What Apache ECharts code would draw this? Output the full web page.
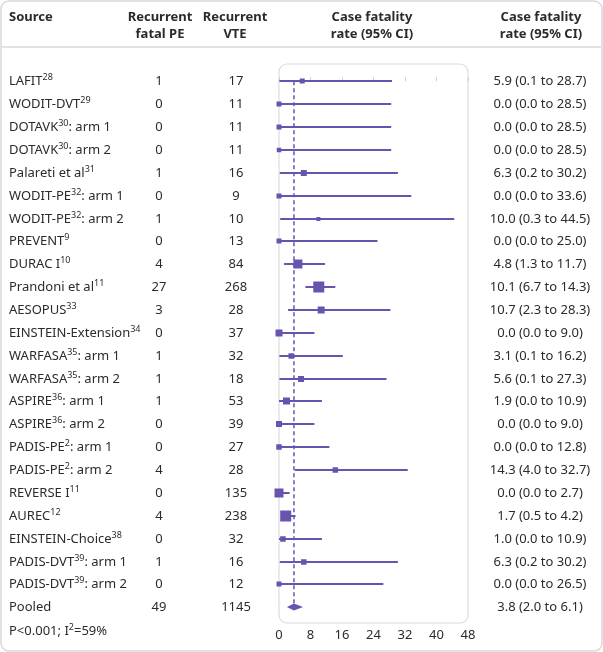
<!DOCTYPE html>
<html>
<head>
<meta charset="utf-8">
<script src="https://cdn.jsdelivr.net/npm/echarts@6/dist/echarts.min.js"></script>
<style>
  html, body { margin: 0; padding: 0; background: #fff; }
  #chart { width: 603px; height: 652px; }
</style>
</head>
<body>
<div id="chart"></div>
<script>
// study names and their reference superscripts
const studies = ['LAFIT', 'WODIT-DVT', 'DOTAVK', 'DOTAVK', 'Palareti et al', 'WODIT-PE', 'WODIT-PE', 'PREVENT',
  'DURAC I', 'Prandoni et al', 'AESOPUS', 'EINSTEIN-Extension', 'WARFASA', 'WARFASA', 'ASPIRE', 'ASPIRE',
  'PADIS-PE', 'PADIS-PE', 'REVERSE I', 'AUREC', 'EINSTEIN-Choice', 'PADIS-DVT', 'PADIS-DVT', 'Pooled'];
const refs = ['28', '29', '30', '30', '31', '32', '32', '9', '10', '11', '33', '34', '35', '35', '36', '36',
  '2', '2', '11', '12', '38', '39', '39', ''];
const arms = ['', '', ': arm 1', ': arm 2', '', ': arm 1', ': arm 2', '', '', '', '', '', ': arm 1', ': arm 2',
  ': arm 1', ': arm 2', ': arm 1', ': arm 2', '', '', '', ': arm 1', ': arm 2', ''];

const fatalPE = [1, 0, 0, 0, 1, 0, 1, 0, 4, 27, 3, 0, 1, 1, 1, 0, 0, 4, 0, 4, 0, 1, 0, 49];
const recurrentVTE = [17, 11, 11, 11, 16, 9, 10, 13, 84, 268, 28, 37, 32, 18, 53, 39, 27, 28, 135, 238, 32, 16, 12, 1145];

const rate = [5.9, 0.0, 0.0, 0.0, 6.3, 0.0, 10.0, 0.0, 4.8, 10.1, 10.7, 0.0, 3.1, 5.6, 1.9, 0.0, 0.0, 14.3, 0.0, 1.7, 1.0, 6.3, 0.0, 3.8];
const lower = [0.1, 0.0, 0.0, 0.0, 0.2, 0.0, 0.3, 0.0, 1.3, 6.7, 2.3, 0.0, 0.1, 0.1, 0.0, 0.0, 0.0, 4.0, 0.0, 0.5, 0.0, 0.2, 0.0, 2.0];
const upper = [28.7, 28.5, 28.5, 28.5, 30.2, 33.6, 44.5, 25.0, 11.7, 14.3, 28.3, 9.0, 16.2, 27.3, 10.9, 9.0, 12.8, 32.7, 2.7, 4.2, 10.9, 30.2, 26.5, 6.1];
// marker weights (box side in px)
const weight = [5, 5, 5, 4.5, 6, 5, 4, 5, 9, 11, 7, 7, 5.5, 6, 7, 6, 5.5, 5.5, 9, 11, 5.5, 5.5, 5, 7];

const xTicks = [0, 8, 16, 24, 32, 40, 48];

const purple = '#6854af';
const textColor = '#2b2b2b';
const fontFamily = '"Noto Sans", "Open Sans", sans-serif';

const chart = echarts.init(document.getElementById('chart'));

const fmt = v => v.toFixed(1);

const richStyle = {
  n: { fontSize: 13, fontFamily: fontFamily, fill: textColor, lineHeight: 16 },
  s: { fontSize: 9, fontFamily: fontFamily, fill: textColor, verticalAlign: 'top', lineHeight: 9 }
};

function renderRow(params, api) {
  const i = api.value(1);
  const y = Math.round(api.coord([0, i])[1]);
  const pLo = api.coord([api.value(2), i]);
  const pHi = api.coord([api.value(3), i]);
  const pEst = api.coord([api.value(0), i]);
  const s = api.value(4);
  const children = [];

  // text columns
  const label = refs[i]
    ? '{n|' + studies[i] + '}{s|' + refs[i] + '}{n|' + arms[i] + '}'
    : '{n|' + studies[i] + arms[i] + '}';
  children.push({
    type: 'text',
    style: { x: 9, y: y, text: label, fill: textColor, align: 'left', verticalAlign: 'middle', rich: richStyle }
  });
  children.push({
    type: 'text',
    style: { x: 159, y: y, text: String(fatalPE[i]), fill: textColor, font: '13px ' + fontFamily, align: 'center', verticalAlign: 'middle' }
  });
  children.push({
    type: 'text',
    style: { x: 236, y: y, text: String(recurrentVTE[i]), fill: textColor, font: '13px ' + fontFamily, align: 'center', verticalAlign: 'middle' }
  });
  children.push({
    type: 'text',
    style: {
      x: 540, y: y, text: fmt(rate[i]) + ' (' + fmt(lower[i]) + ' to ' + fmt(upper[i]) + ')',
      fill: textColor, font: '13px ' + fontFamily, align: 'center', verticalAlign: 'middle'
    }
  });

  if (i === studies.length - 1) {
    // pooled diamond
    children.push({
      type: 'polygon',
      shape: { points: [[pLo[0], y], [pEst[0], y - s / 2], [pHi[0], y], [pEst[0], y + s / 2]] },
      style: { fill: purple }
    });
  } else {
    children.push({
      type: 'line',
      shape: { x1: pLo[0], y1: y, x2: pHi[0], y2: y },
      style: { stroke: purple, lineWidth: 2 }
    });
    children.push({
      type: 'rect',
      shape: { x: pEst[0] - s / 2, y: y - s / 2, width: s, height: s },
      style: { fill: purple }
    });
  }
  return { type: 'group', children: children };
}

const rows = studies.map((_, i) => [rate[i], i, lower[i], upper[i], weight[i]]);
const pooled = rate[rate.length - 1];

const headerFont = 'bold 13px ' + fontFamily;

chart.setOption({
  backgroundColor: '#fff',
  animation: false,
  grid: { left: 279, width: 189, top: 64, height: 559 },
  xAxis: {
    type: 'value', min: xTicks[0], max: xTicks[xTicks.length - 1], interval: 8,
    axisLine: { show: false },
    axisTick: { show: true, inside: true, length: 4, lineStyle: { color: '#cfcfcf' } },
    splitLine: { show: false },
    axisLabel: { fontSize: 13, fontFamily: fontFamily, color: textColor, margin: 6 }
  },
  yAxis: { type: 'value', inverse: true, min: -0.756, max: 23.687, show: false },
  graphic: [
    { type: 'rect', shape: { x: 1, y: 1, width: 601, height: 650, r: 8 }, style: { fill: 'none', stroke: '#d9d9d9', lineWidth: 1.5 }, z: -1 },
    { type: 'line', shape: { x1: 1, y1: 47, x2: 602, y2: 47 }, style: { stroke: '#e2e2e2', lineWidth: 2 } },
    { type: 'rect', shape: { x: 279, y: 64, width: 189, height: 559, r: 8 }, style: { fill: 'none', stroke: '#dcdcdc', lineWidth: 1.2 }, z: -1 },
    { type: 'text', style: { x: 9, y: 17, text: 'Source', font: headerFont, fill: textColor, verticalAlign: 'middle' } },
    { type: 'text', style: { x: 160, y: 25.5, text: 'Recurrent\nfatal PE', font: headerFont, fill: textColor, align: 'center', verticalAlign: 'middle', lineHeight: 17 } },
    { type: 'text', style: { x: 235, y: 25.5, text: 'Recurrent\nVTE', font: headerFont, fill: textColor, align: 'center', verticalAlign: 'middle', lineHeight: 17 } },
    { type: 'text', style: { x: 372, y: 25.5, text: 'Case fatality\nrate (95% CI)', font: headerFont, fill: textColor, align: 'center', verticalAlign: 'middle', lineHeight: 17 } },
    { type: 'text', style: { x: 541, y: 25.5, text: 'Case fatality\nrate (95% CI)', font: headerFont, fill: textColor, align: 'center', verticalAlign: 'middle', lineHeight: 17 } },
    {
      type: 'text',
      style: { x: 9, y: 631, text: '{n|P<0.001; I}{s|2}{n|=59%}', verticalAlign: 'middle', rich: richStyle }
    }
  ],
  series: [
    {
      type: 'line',
      data: [[pooled, 0], [pooled, studies.length - 1]],
      symbol: 'none',
      lineStyle: { color: purple, width: 1.5, type: [4, 3] },
      z: 1
    },
    {
      type: 'custom',
      data: rows,
      encode: { x: 0, y: 1 },
      renderItem: renderRow,
      z: 2
    }
  ]
});
</script>
</body>
</html>
